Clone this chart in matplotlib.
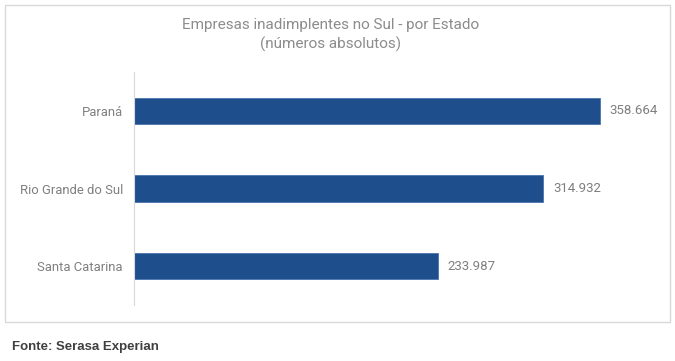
import matplotlib.pyplot as plt
from matplotlib.patches import Rectangle

# data
estados = ['Paraná', 'Rio Grande do Sul', 'Santa Catarina']
valores = [358664, 314932, 233987]
rotulos = ['358.664', '314.932', '233.987']

W, H = 675, 361
fig = plt.figure(figsize=(W / 100, H / 100), dpi=100)
fig.patch.set_facecolor('white')

# chart frame
fig.add_artist(Rectangle((5 / W, 1 - 322 / H), 665 / W, 317 / H, transform=fig.transFigure,
                         fill=False, edgecolor='#d9d9d9', linewidth=1))

# axes: left edge at x=134px, y from 72 to 305px
ax_left, ax_right = 134, 660
ax = fig.add_axes([ax_left / W, 1 - 305 / H, (ax_right - ax_left) / W, 233 / H])
xmax = valores[0] * (ax_right - ax_left) / (600 - ax_left)

pos = list(range(len(estados)))
ax.barh(pos, valores, height=0.34, color='#1f4e8c', edgecolor='#4a74ad', linewidth=0.6)
ax.set_xlim(0, xmax)
ax.set_ylim(len(estados) - 0.5, -0.5)
ax.set_yticks(pos)
ax.set_yticklabels(estados, fontsize=9.4, color='#7f7f7f', family='Roboto')
ax.tick_params(axis='y', length=0, pad=8)
ax.set_xticks([])
for s in ['top', 'right', 'bottom']:
    ax.spines[s].set_visible(False)
ax.spines['left'].set_color('#d9d9d9')

for p, v, r in zip(pos, valores, rotulos):
    ax.annotate(r, (v, p), xytext=(7, 0), textcoords='offset points', va='center', ha='left',
                fontsize=9.5, color='#7f7f7f', family='Roboto')

fig.text(331 / W, 1 - 25 / H, 'Empresas inadimplentes no Sul - por Estado', ha='center', va='center',
         fontsize=11, color='#8c8c8c', family='Roboto')
fig.text(331 / W, 1 - 44 / H, '(números absolutos)', ha='center', va='center',
         fontsize=11, color='#8c8c8c', family='Roboto')

fig.text(12 / W, 1 - 347 / H, 'Fonte: Serasa Experian', ha='left', va='center',
         fontsize=9.5, color='#404040', fontweight='bold', family='Liberation Sans')

fig.savefig('out.png', dpi=100)
